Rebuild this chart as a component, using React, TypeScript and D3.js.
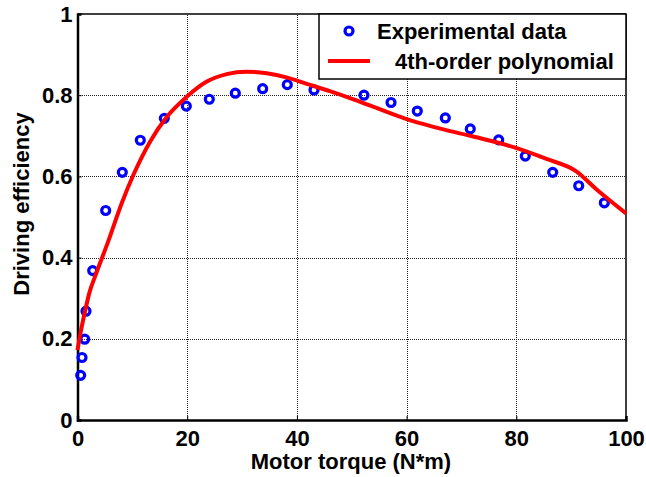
import { useEffect, useRef } from 'react';
import * as d3 from 'd3';

// measured points (torque N*m, efficiency)
const expTorque = [0.58, 0.82, 1.31, 1.55, 2.77, 5.14, 8.17, 11.45, 15.83, 19.84, 24.03, 28.77, 33.76, 38.25, 43.12, 52.23, 57.16, 61.95, 67.06, 71.61, 76.79, 81.64, 86.64, 91.38, 96.05];
const expEff = [0.110, 0.154, 0.199, 0.268, 0.368, 0.516, 0.610, 0.689, 0.743, 0.773, 0.790, 0.805, 0.816, 0.826, 0.813, 0.800, 0.782, 0.761, 0.744, 0.717, 0.690, 0.650, 0.610, 0.577, 0.535];

// fitted curve
const fitTorque = [0, 0.7, 1.37, 2.2, 3.19, 5.6, 8.06, 10.2, 13.2, 16.3, 19.9, 23.5, 27.2, 30.8, 34.5, 38.1, 41.8, 46.0, 50.3, 55.2, 60.0, 64.9, 71.6, 79.5, 85.5, 91.0, 94.7, 100];
const fitEff = [0.172, 0.225, 0.268, 0.315, 0.353, 0.440, 0.534, 0.604, 0.685, 0.747, 0.796, 0.833, 0.852, 0.858, 0.854, 0.844, 0.828, 0.810, 0.790, 0.765, 0.741, 0.722, 0.700, 0.672, 0.643, 0.612, 0.567, 0.509];

const xTicks = [0, 20, 40, 60, 80, 100];
const yTicks = [0, 0.2, 0.4, 0.6, 0.8, 1];

const W = 646;
const H = 477;
const FONT = '"Liberation Sans", Arial, sans-serif';

export default function App() {
  const svgRef = useRef<SVGSVGElement>(null);

  useEffect(() => {
    if (!svgRef.current) return;
    const svg = d3.select(svgRef.current);
    svg.selectAll('*').remove();

    const x = d3.scaleLinear().domain([0, 100]).range([77.5, 626]);
    const y = d3.scaleLinear().domain([0, 1]).range([420, 14]);
    const px = (v: number) => Math.round(v) + 0.5;

    // grid
    const grid = svg.append('g').attr('stroke', '#222').attr('stroke-width', 1)
      .attr('stroke-dasharray', '1,1').attr('shape-rendering', 'crispEdges');
    grid.selectAll('.gx').data(xTicks.slice(1, -1)).join('line')
      .attr('x1', d => px(x(d))).attr('x2', d => px(x(d))).attr('y1', y(0)).attr('y2', y(1));
    grid.selectAll('.gy').data(yTicks.slice(1, -1)).join('line')
      .attr('x1', x(0)).attr('x2', x(100)).attr('y1', d => px(y(d))).attr('y2', d => px(y(d)));

    // box
    svg.append('line').attr('x1', x(0)).attr('x2', x(100)).attr('y1', y(1)).attr('y2', y(1))
      .attr('stroke', '#000').attr('stroke-width', 1.5);
    svg.append('line').attr('x1', x(100)).attr('x2', x(100)).attr('y1', y(0)).attr('y2', y(1))
      .attr('stroke', '#000').attr('stroke-width', 1.5);

    // axes
    const xAxis = svg.append('g').attr('transform', `translate(0,${y(0)})`)
      .call(d3.axisBottom(x).tickValues(xTicks).tickSize(-4).tickPadding(10).tickFormat(d3.format('d')));
    const yAxis = svg.append('g').attr('transform', `translate(${x(0)},0)`)
      .call(d3.axisLeft(y).tickValues(yTicks).tickSize(-4).tickPadding(5).tickFormat(d => (d === 0 || d === 1) ? String(d) : d3.format('.1f')(d as number)));
    [xAxis, yAxis].forEach(a => {
      a.select('.domain').attr('stroke', '#000').attr('stroke-width', 2.5);
      a.selectAll('.tick line').attr('stroke', '#000');
      a.selectAll('.tick text').attr('font-family', FONT).attr('font-size', 22)
        .attr('font-weight', 'bold').attr('fill', '#000');
    });
    xAxis.selectAll('.tick text').attr('dy', '0.72em').attr('y', 10);

    // data markers
    svg.append('g').selectAll('circle').data(expTorque).join('circle')
      .attr('cx', d => x(d)).attr('cy', (_, i) => y(expEff[i])).attr('r', 4)
      .attr('fill', 'none').attr('stroke', '#0000ff').attr('stroke-width', 3.2);

    // fitted curve
    const line = d3.line<number>()
      .x(d => x(d)).y((_, i) => y(fitEff[i]))
      .curve(d3.curveMonotoneX);
    svg.append('path').datum(fitTorque).attr('d', line)
      .attr('fill', 'none').attr('stroke', '#ff0000').attr('stroke-width', 4)
      .attr('stroke-linejoin', 'round');

    // axis labels
    svg.append('text').attr('x', 351).attr('y', 469).attr('text-anchor', 'middle')
      .attr('font-family', FONT).attr('font-size', 22).attr('font-weight', 'bold')
      .text('Motor torque (N*m)');
    svg.append('text').attr('transform', 'translate(29,204) rotate(-90)').attr('text-anchor', 'middle')
      .attr('font-family', FONT).attr('font-size', 22).attr('font-weight', 'bold')
      .text('Driving efficiency');

    // legend
    const lg = svg.append('g');
    lg.append('rect').attr('x', 319).attr('y', 14).attr('width', 307).attr('height', 65)
      .attr('fill', '#fff').attr('stroke', '#000').attr('stroke-width', 1.5);
    lg.append('circle').attr('cx', 349).attr('cy', 31).attr('r', 4)
      .attr('fill', 'none').attr('stroke', '#0000ff').attr('stroke-width', 3.2);
    lg.append('text').attr('x', 377).attr('y', 39).attr('font-family', FONT)
      .attr('font-size', 22).attr('font-weight', 'bold').text('Experimental data');
    lg.append('line').attr('x1', 328).attr('x2', 370).attr('y1', 61).attr('y2', 61)
      .attr('stroke', '#ff0000').attr('stroke-width', 4);
    lg.append('text').attr('x', 395).attr('y', 69).attr('font-family', FONT)
      .attr('font-size', 22).attr('font-weight', 'bold').text('4th-order polynomial');
  }, []);

  return (
    <svg ref={svgRef} width={W} height={H}
      style={{ position: 'absolute', left: 0, top: 0, background: '#fff', display: 'block' }} />
  );
}
